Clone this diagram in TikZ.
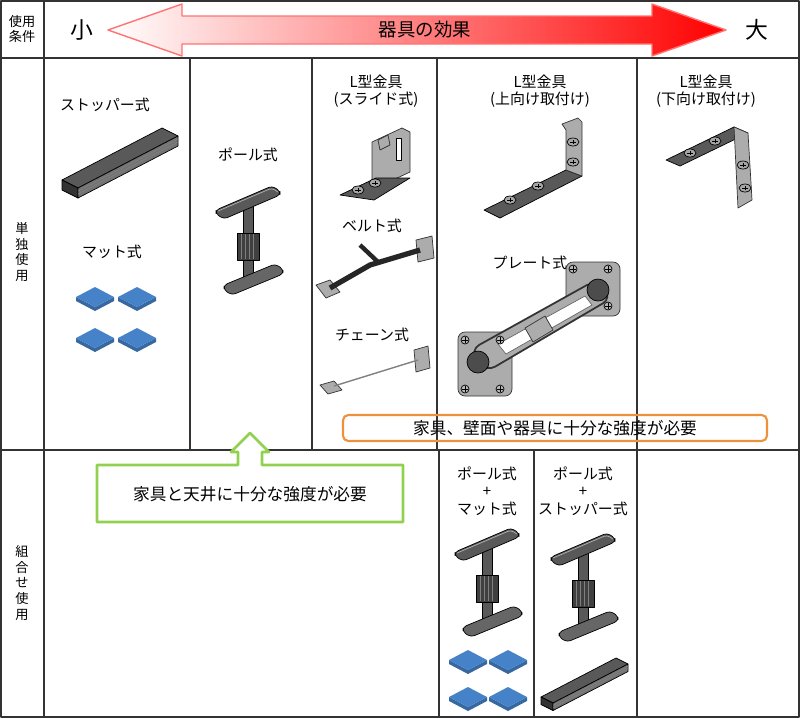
\documentclass[tikz,border=0pt]{standalone}
\usepackage{fontspec}
\setmainfont{Noto Sans CJK JP}
\usetikzlibrary{positioning}

\definecolor{matblue}{RGB}{70,130,200}
\definecolor{okgreen}{RGB}{146,208,80}
\definecolor{warnorange}{RGB}{237,145,60}

% pole-type fixture, origin = top centre
\newcommand{\polefix}[2]{%
  \begin{scope}[shift={(#1,#2)}]
    \draw[metal] (-5,14) rectangle (5,92);
    \draw[metal,fill=black!75] (-11,45) rectangle (11,72);
    \foreach \k in {-7,-3,1,5} \draw[gray] (\k,46)--(\k,71);
    \draw[metal,rounded corners=2] (-32,22)--(24,-2)--(32,3)--(32,7)--(-24,31)--(-32,26)--cycle;
    \draw[gray!60,rounded corners=2] (-30,23)--(24,0)--(30,4);
    \draw[metal,fill=black!60,rounded corners=2] (-24,97)--(27,76)--(35,81)--(35,86)--(-16,107)--(-24,102)--cycle;
  \end{scope}}

% stopper, origin = left corner
\newcommand{\stopperfix}[3]{%
  \begin{scope}[shift={(#1,#2)},scale=#3]
    \draw[metal] (0,0)--(100,-52)--(116,-44)--(16,8)--cycle;
    \draw[metal,fill=black!80] (0,0)--(16,8)--(16,18)--(0,10)--cycle;
    \draw[metal,fill=black!55] (16,8)--(116,-44)--(116,-34)--(16,18)--cycle;
    \draw[gray] (16,11)--(116,-41) (16,14)--(116,-38);
  \end{scope}}

% one mat pad, origin = centre
\newcommand{\matpad}[2]{%
  \draw[fill=matblue!80!black,draw=none] (#1-19,#2)--(#1,#2+10)--(#1+19,#2)--(#1+19,#2+4)--(#1,#2+14)--(#1-19,#2+4)--cycle;
  \draw[fill=matblue,draw=none] (#1,#2-10)--(#1+19,#2)--(#1,#2+10)--(#1-19,#2)--cycle;}

\newcommand{\screw}[2]{%
  \draw[fill=gray!70,draw=black] (#1,#2) ellipse (6 and 4);
  \draw (#1-3,#2)--(#1+3,#2) (#1,#2-2)--(#1,#2+2);}

\begin{document}
\begin{tikzpicture}[x=0.02cm,y=-0.02cm,line join=round]
\tikzset{
  grid/.style={draw=black!80,line width=0.6pt},
  lbl/.style={font=\fontsize{8.5}{10}\selectfont,align=center,inner sep=1pt},
  side/.style={font=\fontsize{7.5}{9}\selectfont,align=center,inner sep=1pt},
  metal/.style={fill=black!65,draw=black,line width=0.4pt},
  plate/.style={fill=gray!65,draw=black!80,line width=0.4pt}
}
\useasboundingbox (0,0) rectangle (800,718);

% table
\draw[grid] (1,1) rectangle (799,717);
\draw[grid] (1,58)--(799,58) (1,450)--(799,450) (44,1)--(44,717);
\foreach \gx in {190,312,437,637} \draw[grid] (\gx,58)--(\gx,450);
\foreach \gx in {439,534,637} \draw[grid] (\gx,450)--(\gx,717);

% header
\node[side] (cond) at (22,29) {使用\\条件};
\node[side] (single) at (22,252) {単\\独\\使\\用};
\node[side] (combo) at (22,583) {組\\合\\せ\\使\\用};
\draw[draw=red!55,line width=0.8pt,left color=white,right color=red]
  (108,30)--(182,4)--(182,16)--(652,16)--(652,4)--(726,30)--(652,56)--(652,44)--(182,44)--(182,56)--cycle;
\node[font=\fontsize{13}{14}\selectfont] (small) at (82,30) {小};
\node[font=\fontsize{13}{14}\selectfont] (large) at (757,30) {大};
\node[font=\fontsize{10.5}{12}\selectfont] (effect) at (425,30) {器具の効果};

% column 1
\node[lbl] (stopper) at (105,105) {ストッパー式};
\stopperfix{62}{180}{1}
\node[lbl] (mat) at (112,252) {マット式};
\matpad{95}{297}\matpad{137}{297}\matpad{95}{338}\matpad{137}{338}

% column 2
\node[lbl] (pole) at (248,155) {ポール式};
\polefix{248}{188}

% column 3
\node[lbl] (slide) at (376,91) {L型金具\\(スライド式)};
\draw[plate] (372,142)--(402,128)--(410,132)--(410,172)--(380,186)--(372,182)--cycle;
\draw[fill=white] (396,138) rectangle (401,160);
\draw[plate] (378,140)--(388,135)--(390,145)--(380,150)--cycle;
\draw[metal] (340,195)--(376,178)--(410,178)--(374,200)--cycle;
\screw{358}{190}\screw{375}{183}
\node[lbl] (belt) at (372,226) {ベルト式};
\draw[plate] (316,285)--(330,280)--(340,292)--(326,298)--cycle;
\draw[plate] (416,240)--(432,236)--(434,258)--(418,262)--cycle;
\draw[black!85,line width=3pt] (330,288)--(370,265)--(420,250);
\draw[black!85,line width=2.5pt] (360,245)--(378,262);
\node[lbl] (chain) at (372,335) {チェーン式};
\draw[plate] (320,385)--(334,381)--(342,390)--(328,394)--cycle;
\draw[plate] (414,350)--(428,346)--(430,368)--(416,372)--cycle;
\draw[gray,line width=0.8pt] (334,386)--(418,360);

% column 4
\node[lbl] (upward) at (540,91) {L型金具\\(上向け取付け)};
\draw[metal] (484,210)--(566,170)--(582,176)--(500,218)--cycle;
\draw[plate] (562,124)--(578,118)--(582,122)--(582,176)--(566,170)--(566,130)--cycle;
\screw{510}{200}\screw{538}{186}\screw{573}{142}\screw{573}{162}
\node[lbl] (platefix) at (530,263) {プレート式};
\draw[plate,rounded corners=4] (458,332) rectangle (512,396);
\draw[plate,rounded corners=4] (566,262) rectangle (620,316);
\draw[plate,line width=1pt,rounded corners=6] (470,350)--(596,280)--(612,298)--(486,372)--cycle;
\draw[fill=white,draw=black!60] (498,344)--(585,296)--(592,305)--(506,354)--cycle;
\draw[plate] (525,328)--(545,316)--(553,330)--(533,342)--cycle;
\draw[fill=black!70] (478,362) circle (11) (598,290) circle (11);
\foreach \sx/\sy in {465/340,500/340,465/389,500/389,573/269,608/269,608/306}
  {\draw[fill=gray!55] (\sx,\sy) circle (4); \draw (\sx-3,\sy)--(\sx+3,\sy) (\sx,\sy-3)--(\sx,\sy+3);}

% column 5
\node[lbl] (downward) at (706,91) {L型金具\\(下向け取付け)};
\draw[metal] (666,160)--(734,127)--(748,133)--(680,166)--cycle;
\draw[plate] (734,127)--(748,133)--(752,200)--(738,208)--cycle;
\screw{690}{153}\screw{715}{141}\screw{743}{165}\screw{745}{188}

% notes
\node[draw=warnorange,line width=1.2pt,rounded corners=3,minimum width=424*0.02cm,minimum height=26*0.02cm,font=\fontsize{9.5}{11}\selectfont,inner sep=0pt] (needwall) at (555,428) {家具、壁面や器具に十分な強度が必要};
\draw[okgreen,line width=1.5pt,fill=white]
  (97,465)--(238,465)--(238,452)--(231,452)--(250,433)--(269,452)--(262,452)--(262,465)--(403,465)--(403,522)--(97,522)--cycle;
\node[font=\fontsize{9.5}{11}\selectfont] (needceil) at (250,494) {家具と天井に十分な強度が必要};

% row 2
\node[lbl] (comboA) at (487,491) {ポール式\\+\\マット式};
\polefix{487}{530}
\matpad{468}{660}\matpad{508}{660}\matpad{468}{697}\matpad{508}{697}
\node[lbl] (comboB) at (583,491) {ポール式\\+\\ストッパー式};
\polefix{583}{535}
\stopperfix{541}{697}{0.75}
\end{tikzpicture}
\end{document}
